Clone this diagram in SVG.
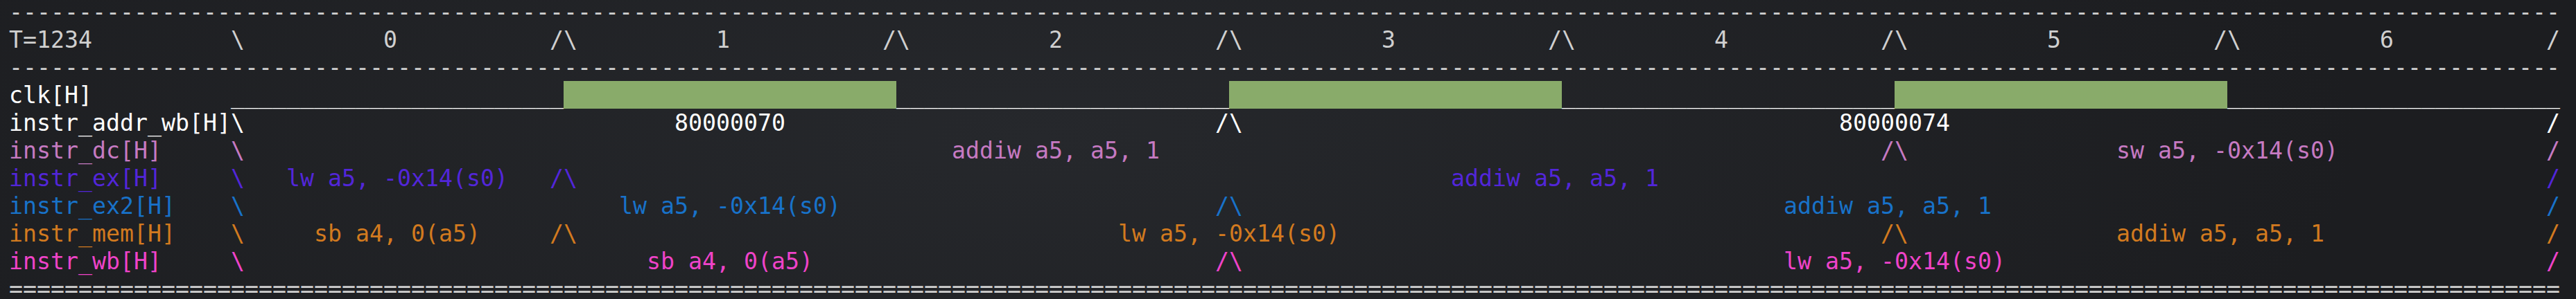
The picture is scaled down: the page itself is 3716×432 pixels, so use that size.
<svg xmlns="http://www.w3.org/2000/svg" width="3716" height="432" viewBox="0 0 3716 432">
<defs>
<radialGradient id="bg" cx="1500" cy="200" r="1900" gradientUnits="userSpaceOnUse" gradientTransform="translate(1500 200) scale(1 0.35) translate(-1500 -200)">
<stop offset="0" stop-color="#26282c"/>
<stop offset="1" stop-color="#1c1d20"/>
</radialGradient>
<style>
.t{font-family:"DejaVu Sans Mono","Liberation Mono",monospace;font-size:33.22px;white-space:pre}
.hd{fill:#cfcfcf}
.w{fill:#ffffff}
.dc{fill:#c67ac2}
.ex{fill:#5226d9}
.ex2{fill:#1872c9}
.mem{fill:#d27a1f}
.wb{fill:#ef43c9}
.hi{fill:#89ab6a}
</style>
</defs>
<rect width="3716" height="432" fill="url(#bg)"/>
<g id="rule-top"><text class="t hd" x="13" y="29" textLength="3680" lengthAdjust="spacing">----------------------------------------------------------------------------------------------------------------------------------------------------------------------------------------</text></g>
<g id="header" class="t hd">
<text x="13" y="69">T=1234</text>
<text x="333" y="69">\</text>
<text x="553" y="69">0</text>
<text x="793" y="69">/\</text>
<text x="1033" y="69">1</text>
<text x="1273" y="69">/\</text>
<text x="1513" y="69">2</text>
<text x="1753" y="69">/\</text>
<text x="1993" y="69">3</text>
<text x="2233" y="69">/\</text>
<text x="2473" y="69">4</text>
<text x="2713" y="69">/\</text>
<text x="2953" y="69">5</text>
<text x="3193" y="69">/\</text>
<text x="3433" y="69">6</text>
<text x="3673" y="69">/</text>
</g>
<g id="rule-mid"><text class="t hd" x="13" y="109" textLength="3680" lengthAdjust="spacing">----------------------------------------------------------------------------------------------------------------------------------------------------------------------------------------</text></g>
<g id="clk">
<rect class="hi" x="813" y="117" width="480" height="40"/>
<rect class="hi" x="1773" y="117" width="480" height="40"/>
<rect class="hi" x="2733" y="117" width="480" height="40"/>
<text class="t w" x="13" y="149">clk[H]</text>
<text class="t w" x="333" y="149" textLength="480">________________________</text>
<text class="t w" x="1293" y="149" textLength="480">________________________</text>
<text class="t w" x="2253" y="149" textLength="480">________________________</text>
<text class="t w" x="3213" y="149" textLength="480">________________________</text>
</g>
<g id="instr_addr_wb" class="t w">
<text x="13" y="189">instr_addr_wb[H]</text>
<text x="333" y="189">\</text>
<text x="973" y="189">80000070</text>
<text x="1753" y="189">/\</text>
<text x="2653" y="189">80000074</text>
<text x="3673" y="189">/</text>
</g>
<g id="instr_dc" class="t dc">
<text x="13" y="229">instr_dc[H]</text>
<text x="333" y="229">\</text>
<text x="1373" y="229">addiw a5, a5, 1</text>
<text x="2713" y="229">/\</text>
<text x="3053" y="229">sw a5, -0x14(s0)</text>
<text x="3673" y="229">/</text>
</g>
<g id="instr_ex" class="t ex">
<text x="13" y="269">instr_ex[H]</text>
<text x="333" y="269">\</text>
<text x="413" y="269">lw a5, -0x14(s0)</text>
<text x="793" y="269">/\</text>
<text x="2093" y="269">addiw a5, a5, 1</text>
<text x="3673" y="269">/</text>
</g>
<g id="instr_ex2" class="t ex2">
<text x="13" y="309">instr_ex2[H]</text>
<text x="333" y="309">\</text>
<text x="893" y="309">lw a5, -0x14(s0)</text>
<text x="1753" y="309">/\</text>
<text x="2573" y="309">addiw a5, a5, 1</text>
<text x="3673" y="309">/</text>
</g>
<g id="instr_mem" class="t mem">
<text x="13" y="349">instr_mem[H]</text>
<text x="333" y="349">\</text>
<text x="453" y="349">sb a4, 0(a5)</text>
<text x="793" y="349">/\</text>
<text x="1613" y="349">lw a5, -0x14(s0)</text>
<text x="2713" y="349">/\</text>
<text x="3053" y="349">addiw a5, a5, 1</text>
<text x="3673" y="349">/</text>
</g>
<g id="instr_wb" class="t wb">
<text x="13" y="389">instr_wb[H]</text>
<text x="333" y="389">\</text>
<text x="933" y="389">sb a4, 0(a5)</text>
<text x="1753" y="389">/\</text>
<text x="2573" y="389">lw a5, -0x14(s0)</text>
<text x="3673" y="389">/</text>
</g>
<g id="rule-bottom"><text class="t hd" x="13" y="429" textLength="3680" lengthAdjust="spacing">========================================================================================================================================================================================</text></g>
</svg>
